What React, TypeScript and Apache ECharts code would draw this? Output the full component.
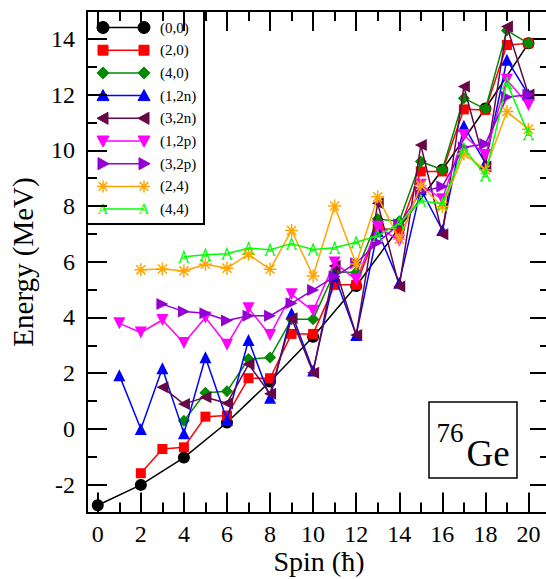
import React, { useEffect, useRef } from "react";
import * as echarts from "echarts";

// ---------------- data ----------------
const SPIN_00 = [0, 2, 4, 6, 8, 10, 12, 14, 16, 18, 20];
const E_00 = [-2.74, -2.01, -1.03, 0.23, 1.7, 3.31, 5.13, 7.22, 9.3, 11.5, 13.84];

const SPIN_20 = [2, 3, 4, 5, 6, 7, 8, 9, 10, 11, 12, 13, 14, 15, 16, 17, 18, 19, 20];
const E_20 = [-1.59, -0.72, -0.66, 0.44, 0.48, 1.82, 1.82, 3.41, 3.41, 5.17, 5.17, 7.18, 7.16, 9.24, 9.24, 11.47, 11.45, 13.78, 13.84];

const SPIN_40 = [4, 5, 6, 7, 8, 9, 10, 11, 12, 13, 14, 15, 16, 17, 18, 19, 20];
const E_40 = [0.29, 1.3, 1.35, 2.51, 2.56, 3.94, 3.94, 5.63, 5.61, 7.53, 7.45, 9.6, 9.3, 11.87, 11.48, 14.3, 13.84];

const SPIN_12N = [1, 2, 3, 4, 5, 6, 7, 8, 9, 10, 11, 12, 13, 14, 15, 16, 17, 18, 19, 20];
const E_12N = [1.93, 0.0, 2.18, -0.16, 2.57, 0.32, 3.19, 1.12, 4.15, 2.1, 5.5, 3.37, 7.1, 5.25, 8.6, 7.14, 10.88, 9.54, 13.25, 12.0];

const SPIN_32N = [3, 4, 5, 6, 7, 8, 9, 10, 11, 12, 13, 14, 15, 16, 17, 18, 19, 20];
const E_32N = [1.5, 0.89, 1.14, 0.92, 2.32, 1.26, 3.97, 2.02, 5.85, 3.37, 8.1, 5.11, 10.19, 6.99, 12.29, 9.42, 14.44, 12.0];

const SPIN_12P = [1, 2, 3, 4, 5, 6, 7, 8, 9, 10, 11, 12, 13, 14, 15, 16, 17, 18, 19, 20];
const E_12P = [3.79, 3.46, 3.91, 3.08, 4.0, 3.02, 4.33, 3.37, 4.83, 4.24, 5.97, 5.35, 7.26, 6.75, 8.76, 8.24, 10.55, 9.83, 12.53, 11.63];

const SPIN_32P = [3, 4, 5, 6, 7, 8, 9, 10, 11, 12, 13, 14, 15, 16, 17, 18, 19, 20];
const E_32P = [4.48, 4.21, 4.15, 3.89, 4.06, 4.06, 4.51, 4.99, 5.47, 5.95, 6.69, 7.35, 8.5, 8.7, 10.11, 10.23, 11.91, 11.99];

const SPIN_24 = [2, 3, 4, 5, 6, 7, 8, 9, 10, 11, 12, 13, 14, 15, 16, 17, 18, 19, 20];
const E_24 = [5.71, 5.74, 5.67, 5.91, 5.77, 6.27, 5.73, 7.12, 5.49, 8.0, 5.92, 8.33, 6.81, 8.74, 7.98, 9.87, 9.3, 11.39, 10.76];

const SPIN_44 = [4, 5, 6, 7, 8, 9, 10, 11, 12, 13, 14, 15, 16, 17, 18, 19, 20];
const E_44 = [6.18, 6.25, 6.29, 6.49, 6.43, 6.65, 6.44, 6.5, 6.7, 6.93, 7.38, 8.19, 8.08, 10.07, 9.1, 12.42, 10.58];

const X_MAJOR = [0, 2, 4, 6, 8, 10, 12, 14, 16, 18, 20];
const X_MINOR = [1, 3, 5, 7, 9, 11, 13, 15, 17, 19];
const Y_MAJOR = [-2, 0, 2, 4, 6, 8, 10, 12, 14];
const Y_MINOR = [-1, 1, 3, 5, 7, 9, 11, 13];

const LABELS = ["(0,0)", "(2,0)", "(4,0)", "(1,2n)", "(3,2n)", "(1,2p)", "(3,2p)", "(2,4)", "(4,4)"];
const COLORS = ["#000000", "#ff0000", "#008b00", "#0000ff", "#670748", "#ff00ff", "#9400d3", "#ffa500", "#00ff00"];
const KINDS = ["circle", "square", "diamond", "up", "left", "down", "right", "star", "A"];

const FONT = "'Liberation Serif', 'Times New Roman', Times, serif";

const STAR_PATH = "path://M5,0L5,10M0,5L10,5M1.5,1.5L8.5,8.5M8.5,1.5L1.5,8.5";
const A_PATH = "path://M0.5,10L5,0L9.5,10M2.3,6.2L7.7,6.2M-1,10L2,10M8,10L11,10";

function symbolFor(kind: string, color: string) {
  switch (kind) {
    case "circle":
      return { symbol: "circle", symbolSize: 12, symbolRotate: 0, itemStyle: { color } };
    case "square":
      return { symbol: "rect", symbolSize: 10, symbolRotate: 0, itemStyle: { color } };
    case "diamond":
      return { symbol: "diamond", symbolSize: 12, symbolRotate: 0, itemStyle: { color } };
    case "up":
      return { symbol: "triangle", symbolSize: 12, symbolRotate: 0, itemStyle: { color } };
    case "left":
      return { symbol: "triangle", symbolSize: 12, symbolRotate: 90, itemStyle: { color } };
    case "down":
      return { symbol: "triangle", symbolSize: 12, symbolRotate: 180, itemStyle: { color } };
    case "right":
      return { symbol: "triangle", symbolSize: 12, symbolRotate: -90, itemStyle: { color } };
    case "star":
      return {
        symbol: STAR_PATH,
        symbolSize: 13,
        symbolRotate: 0,
        itemStyle: { color: "rgba(0,0,0,0)", borderColor: color, borderWidth: 1.5 },
      };
    default:
      return {
        symbol: A_PATH,
        symbolSize: [11, 11],
        symbolRotate: 0,
        itemStyle: { color: "rgba(0,0,0,0)", borderColor: color, borderWidth: 1.2 },
      };
  }
}

function legendMarker(kind: string, cx: number, cy: number, color: string): any {
  const fill = { fill: color, stroke: color, lineWidth: 1 };
  switch (kind) {
    case "circle":
      return { type: "circle", shape: { cx, cy, r: 6 }, style: fill };
    case "square":
      return { type: "rect", shape: { x: cx - 5, y: cy - 5, width: 10, height: 10 }, style: fill };
    case "diamond":
      return { type: "polygon", shape: { points: [[cx, cy - 6], [cx + 6, cy], [cx, cy + 6], [cx - 6, cy]] }, style: fill };
    case "up":
      return { type: "polygon", shape: { points: [[cx, cy - 6], [cx + 6, cy + 5], [cx - 6, cy + 5]] }, style: fill };
    case "left":
      return { type: "polygon", shape: { points: [[cx - 6, cy], [cx + 5, cy - 6], [cx + 5, cy + 6]] }, style: fill };
    case "down":
      return { type: "polygon", shape: { points: [[cx - 6, cy - 5], [cx + 6, cy - 5], [cx, cy + 6]] }, style: fill };
    case "right":
      return { type: "polygon", shape: { points: [[cx + 6, cy], [cx - 5, cy - 6], [cx - 5, cy + 6]] }, style: fill };
    case "star": {
      const r = 6;
      const d = 4.3;
      const st = { stroke: color, lineWidth: 1.5 };
      return {
        type: "group",
        children: [
          { type: "line", shape: { x1: cx, y1: cy - r, x2: cx, y2: cy + r }, style: st },
          { type: "line", shape: { x1: cx - r, y1: cy, x2: cx + r, y2: cy }, style: st },
          { type: "line", shape: { x1: cx - d, y1: cy - d, x2: cx + d, y2: cy + d }, style: st },
          { type: "line", shape: { x1: cx + d, y1: cy - d, x2: cx - d, y2: cy + d }, style: st },
        ],
      };
    }
    default:
      return {
        type: "text",
        style: { x: cx, y: cy, text: "A", fill: color, font: `15px ${FONT}`, textAlign: "center", textVerticalAlign: "middle" },
      };
  }
}

export default function App() {
  const ref = useRef<HTMLDivElement>(null);

  useEffect(() => {
    if (!ref.current) return;
    const chart = echarts.init(ref.current, null, { renderer: "svg" });

    const spins = [SPIN_00, SPIN_20, SPIN_40, SPIN_12N, SPIN_32N, SPIN_12P, SPIN_32P, SPIN_24, SPIN_44];
    const energies = [E_00, E_20, E_40, E_12N, E_32N, E_12P, E_32P, E_24, E_44];

    const series = LABELS.map((name, i) => ({
      name,
      type: "line",
      xAxisIndex: 0,
      yAxisIndex: 0,
      data: spins[i].map((s, j) => [s, energies[i][j]]),
      showSymbol: true,
      showAllSymbol: true,
      lineStyle: { color: COLORS[i], width: 1.5 },
      ...symbolFor(KINDS[i], COLORS[i]),
      emphasis: { disabled: true },
      z: 2 + i,
    }));

    const lineStyle = { color: "#000", width: 2 };
    const baseX = { type: "value", min: -0.5, max: 21, splitLine: { show: false }, gridIndex: 0 };
    const baseY = { type: "value", min: -3, max: 15, splitLine: { show: false }, gridIndex: 0 };

    const xAxis = [
      {
        ...baseX,
        position: "bottom",
        axisLine: { show: true, onZero: false, lineStyle },
        axisTick: { show: true, inside: true, length: 20, customValues: X_MAJOR, lineStyle },
        axisLabel: { show: true, customValues: X_MAJOR, fontSize: 24, fontFamily: FONT, color: "#000", margin: 9 },
      },
      {
        ...baseX,
        position: "bottom",
        axisLine: { show: false, onZero: false },
        axisTick: { show: true, inside: true, length: 10, customValues: X_MINOR, lineStyle },
        axisLabel: { show: false },
      },
      {
        ...baseX,
        position: "top",
        axisLine: { show: true, onZero: false, lineStyle },
        axisTick: { show: true, inside: true, length: 20, customValues: X_MAJOR, lineStyle },
        axisLabel: { show: false },
      },
      {
        ...baseX,
        position: "top",
        axisLine: { show: false, onZero: false },
        axisTick: { show: true, inside: true, length: 10, customValues: X_MINOR, lineStyle },
        axisLabel: { show: false },
      },
    ];

    const yAxis = [
      {
        ...baseY,
        position: "left",
        axisLine: { show: true, onZero: false, lineStyle },
        axisTick: { show: true, inside: true, length: 20, customValues: Y_MAJOR, lineStyle },
        axisLabel: { show: true, customValues: Y_MAJOR, fontSize: 24, fontFamily: FONT, color: "#000", margin: 12 },
      },
      {
        ...baseY,
        position: "left",
        axisLine: { show: false, onZero: false },
        axisTick: { show: true, inside: true, length: 10, customValues: Y_MINOR, lineStyle },
        axisLabel: { show: false },
      },
      {
        ...baseY,
        position: "right",
        axisLine: { show: true, onZero: false, lineStyle },
        axisTick: { show: true, inside: true, length: 20, customValues: Y_MAJOR, lineStyle },
        axisLabel: { show: false },
      },
      {
        ...baseY,
        position: "right",
        axisLine: { show: false, onZero: false },
        axisTick: { show: true, inside: true, length: 10, customValues: Y_MINOR, lineStyle },
        axisLabel: { show: false },
      },
    ];

    // legend (drawn manually to show a marker at both ends of each line)
    const legendChildren: any[] = [
      {
        type: "rect",
        shape: { x: 87, y: 11, width: 117, height: 213 },
        style: { fill: "#fff", stroke: "#000", lineWidth: 2 },
      },
    ];
    LABELS.forEach((lab, i) => {
      const y = 27.5 + i * 22.7;
      legendChildren.push({
        type: "line",
        shape: { x1: 103, y1: y, x2: 144, y2: y },
        style: { stroke: COLORS[i], lineWidth: 1.5 },
      });
      legendChildren.push(legendMarker(KINDS[i], 103, y, COLORS[i]));
      legendChildren.push(legendMarker(KINDS[i], 144, y, COLORS[i]));
      legendChildren.push({
        type: "text",
        style: { x: 160, y: y, text: lab, fill: "#000", font: `15px ${FONT}`, textVerticalAlign: "middle" },
      });
    });

    const graphic: any[] = [
      { type: "group", z: 50, children: legendChildren },
      {
        type: "rect",
        z: 50,
        shape: { x: 429, y: 402, width: 88, height: 76 },
        style: { fill: "#fff", stroke: "#000", lineWidth: 1.5 },
      },
      {
        type: "text",
        z: 51,
        style: { x: 450, y: 433, text: "76", fill: "#000", font: `27px ${FONT}`, textAlign: "center", textVerticalAlign: "middle" },
      },
      {
        type: "text",
        z: 51,
        style: { x: 488, y: 453, text: "Ge", fill: "#000", font: `37px ${FONT}`, textAlign: "center", textVerticalAlign: "middle" },
      },
      {
        type: "text",
        z: 51,
        style: { x: 319, y: 561, text: "Spin (ħ)", fill: "#000", font: `28px ${FONT}`, textAlign: "center", textVerticalAlign: "middle" },
      },
      {
        type: "text",
        z: 51,
        x: 23,
        y: 262,
        rotation: Math.PI / 2,
        style: { x: 0, y: 0, text: "Energy (MeV)", fill: "#000", font: `29px ${FONT}`, textAlign: "center", textVerticalAlign: "middle" },
      },
    ];

    chart.setOption({
      animation: false,
      backgroundColor: "#fff",
      textStyle: { fontFamily: FONT },
      grid: { left: 87, top: 11, width: 463, height: 501.5, containLabel: false },
      xAxis,
      yAxis,
      series,
      graphic,
    } as any);

    return () => chart.dispose();
  }, []);

  return (
    <div style={{ position: "absolute", left: 0, top: 0, width: 546, height: 579, overflow: "hidden", background: "#fff" }}>
      <div ref={ref} style={{ width: 560, height: 579 }} />
    </div>
  );
}
